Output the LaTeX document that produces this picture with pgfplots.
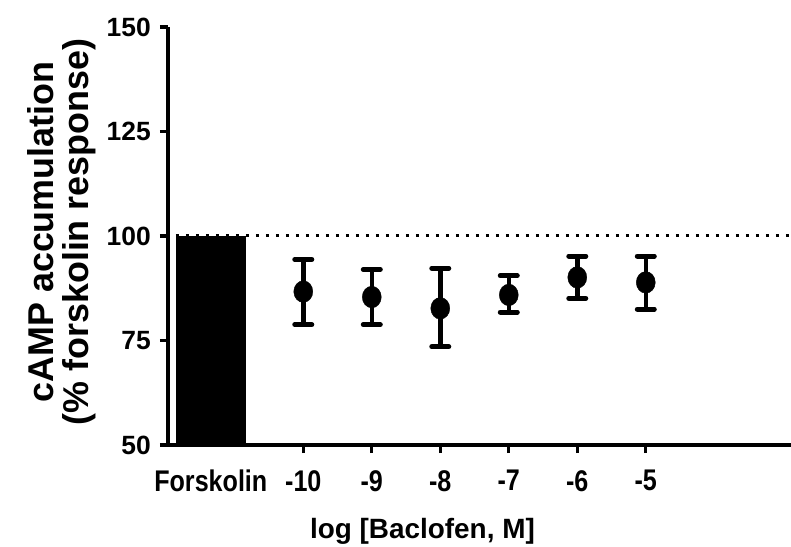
\documentclass[border=0pt]{standalone}
\usepackage{pgfplots}
\pgfplotsset{compat=1.18}
\usepackage{fontspec}
\setmainfont{Liberation Sans}
\begin{document}
\begin{tikzpicture}
\begin{axis}[
  scale only axis,
  width=623bp, height=418bp,
  xmin=-11.975, xmax=-2.88,
  ymin=50, ymax=150,
  axis lines=left,
  axis line style={line width=3.2bp, -},
  clip=false,
  ytick={50,75,100,125,150},
  yticklabels={50,75,100,125,150},
  xtick={-10,-9,-8,-7,-6,-5},
  xticklabels={-10,-9,-8,-7,-6,-5},
  extra x ticks={-11.35},
  extra x tick labels={Forskolin},
  extra x tick style={major tick style={draw=none}},
  tick align=outside,
  major tick length=8bp,
  tick style={line width=3.2bp, black},
  every tick label/.append style={text=black},
  yticklabel style={font=\fontsize{26.5}{30}\selectfont\bfseries, inner sep=1bp, xshift=-8bp},
  xticklabel style={font=\fontsize{30}{32}\selectfont\bfseries, xscale=0.84, inner sep=1bp, yshift=-16bp},
  ylabel={cAMP accumulation\\(\% forskolin response)},
  ylabel style={font=\fontsize{36}{35}\selectfont\bfseries, align=center, at={(axis description cs:0,0.5)}, anchor=center, yshift=106.5bp, xshift=4bp},
  xlabel={log [Baclofen, M]},
  xlabel style={font=\fontsize{28}{33}\selectfont\bfseries, at={(axis cs:-8.26,50)}, anchor=center, yshift=-86bp},
]
% Forskolin bar
\addplot[ybar, bar width=1.02, fill=black, draw=black, line width=0.5bp] coordinates {(-11.35,100)};
% dotted reference line
\addplot[black, line width=3bp, dash pattern=on 3bp off 7bp, forget plot] coordinates {(-11.86,100) (-2.88,100)};
% Baclofen data with asymmetric error bars
\addplot[only marks, mark=*, mark size=10.8bp, mark options={xscale=0.88, fill=black, draw=black},
  error bars/.cd, y dir=both, y explicit,
  error bar style={line width=4.5bp, black},
  error mark options={rotate=90, mark size=8.5bp, line width=5bp, line cap=round, black}]
  coordinates {
  (-10,86.7) -= (0,7.9) += (0,7.7)
  (-9,85.4) -= (0,6.6) += (0,6.6)
  (-8,82.7) -= (0,9.2) += (0,9.6)
  (-7,85.9) -= (0,4.1) += (0,4.6)
  (-6,90.1) -= (0,5.0) += (0,5.1)
  (-5,88.9) -= (0,6.4) += (0,6.3)
  };
\end{axis}
\pgfresetboundingbox
\path[use as bounding box] (-168bp,-102bp) rectangle (623bp,445bp);
\end{tikzpicture}
\end{document}
